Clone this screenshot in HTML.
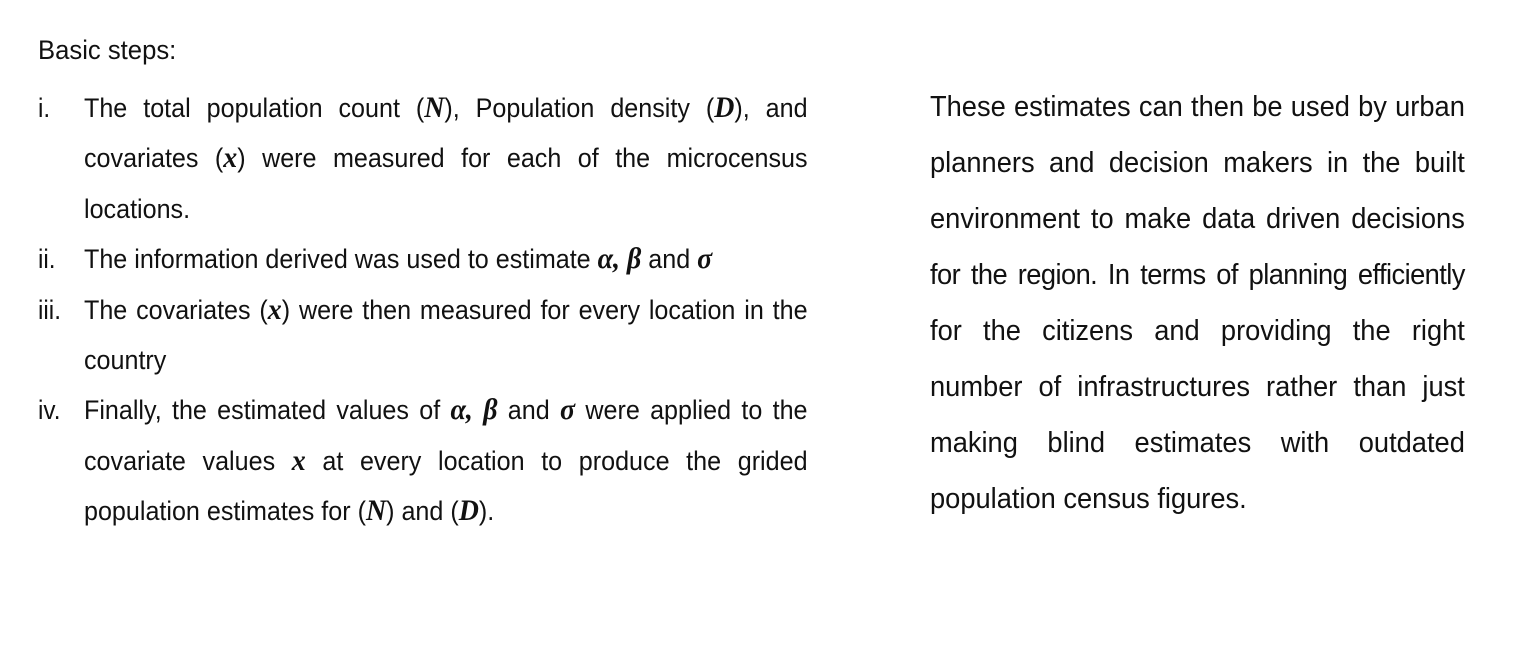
<!DOCTYPE html>
<html><head><meta charset="utf-8"><style>
html,body{margin:0;padding:0;background:#fff;width:1523px;height:647px;overflow:hidden;}
.l{position:absolute;height:34px;line-height:34px;font-family:"Liberation Sans",sans-serif;font-size:27px;color:#111;white-space:nowrap;transform:scaleX(0.93);transform-origin:0 50%;}
.r{font-size:29px;transform:scaleX(0.94);}
.j{text-align:justify;text-align-last:justify;white-space:normal;}
.jl{width:778px;}
.jr{width:569px;}
.m{font-family:"Liberation Serif",serif;font-weight:bold;font-style:italic;font-size:30px;}
.num{position:absolute;height:34px;line-height:34px;font-family:"Liberation Sans",sans-serif;font-size:27px;color:#111;transform:scaleX(0.9);transform-origin:0 50%;}
</style></head><body>
<div class="l" style="left:38px;top:33px;transform:scaleX(0.95)">Basic steps:</div>

<div class="num" style="left:38px;top:91px">i.</div>
<div class="l j jl" style="left:84px;top:91px">The total population count (<span class="m">N</span>), Population density (<span class="m">D</span>), and</div>
<div class="l j jl" style="left:84px;top:141px">covariates (<span class="m">x</span>) were measured for each of the microcensus</div>
<div class="l" style="left:84px;top:192px">locations.</div>

<div class="num" style="left:38px;top:242px">ii.</div>
<div class="l" style="left:84px;top:242px">The information derived was used to estimate <span class="m">α, β</span> and <span class="m">σ</span></div>

<div class="num" style="left:38px;top:293px">iii.</div>
<div class="l j jl" style="left:84px;top:293px">The covariates (<span class="m">x</span>) were then measured for every location in the</div>
<div class="l" style="left:84px;top:343px">country</div>

<div class="num" style="left:38px;top:393px">iv.</div>
<div class="l j jl" style="left:84px;top:393px">Finally, the estimated values of <span class="m">α, β</span> and <span class="m">σ</span> were applied to the</div>
<div class="l j jl" style="left:84px;top:444px">covariate values <span class="m">x</span> at every location to produce the grided</div>
<div class="l" style="left:84px;top:494px">population estimates for (<span class="m">N</span>) and (<span class="m">D</span>).</div>

<div class="l r j jr" style="left:930px;top:90px">These estimates can then be used by urban</div>
<div class="l r j jr" style="left:930px;top:146px">planners and decision makers in the built</div>
<div class="l r j jr" style="left:930px;top:202px">environment to make data driven decisions</div>
<div class="l r j jr" style="left:930px;top:258px;letter-spacing:-0.6px;word-spacing:-3px">for the region. In terms of planning efficiently</div>
<div class="l r j jr" style="left:930px;top:314px">for the citizens and providing the right</div>
<div class="l r j jr" style="left:930px;top:370px">number of infrastructures rather than just</div>
<div class="l r j jr" style="left:930px;top:426px">making blind estimates with outdated</div>
<div class="l r" style="left:930px;top:482px">population census figures.</div>
</body></html>
